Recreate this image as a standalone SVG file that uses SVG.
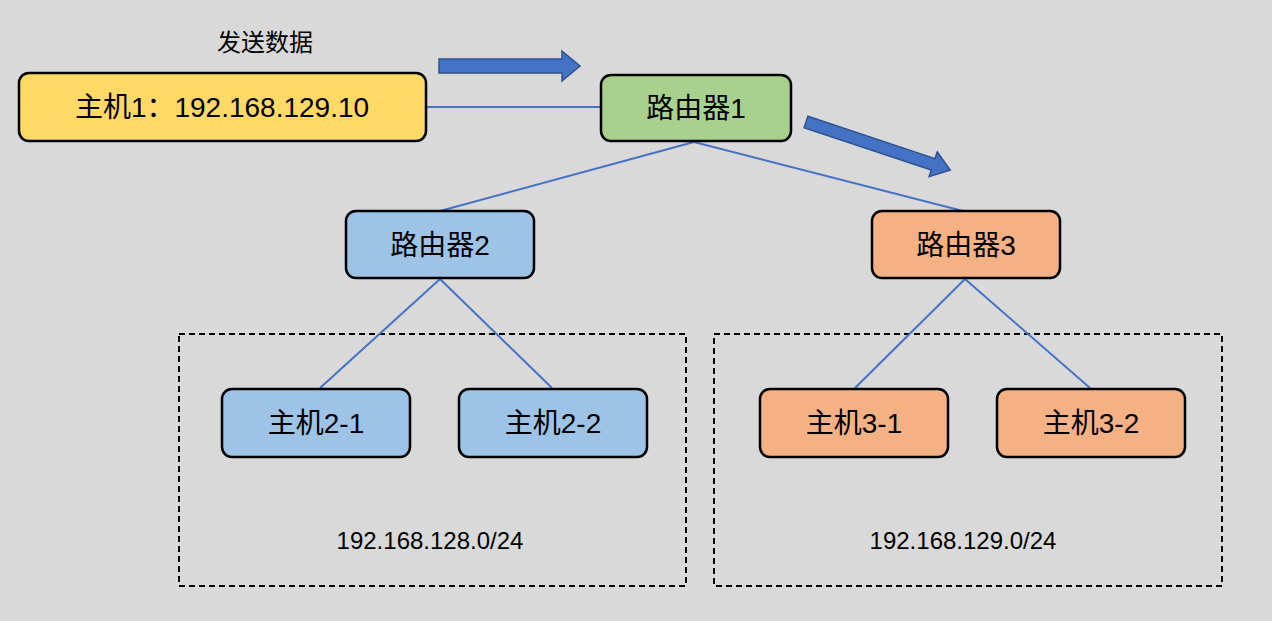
<svg xmlns="http://www.w3.org/2000/svg" width="1272" height="621" viewBox="0 0 1272 621">
<style>
.n{stroke:#000;stroke-width:2.5}
.t{font-family:"Liberation Sans","Noto Sans CJK SC",sans-serif;font-size:28px;text-anchor:middle;dominant-baseline:central;fill:#000}
.s{font-size:24px}
.c{stroke:#4472c4;stroke-width:2;fill:none}
.d{fill:none;stroke:#000;stroke-width:2;stroke-dasharray:6 4}
.a{fill:#4472c4;stroke:#2f528f;stroke-width:1.5}
</style>
<rect width="1272" height="621" fill="#d9d9d9"/>
<rect class="d" x="179" y="334" width="507" height="252"/>
<rect class="d" x="714" y="334" width="508" height="252"/>
<g id="connectors">
<line class="c" x1="426" y1="107" x2="601" y2="107"/>
<line class="c" x1="694" y1="142" x2="440" y2="211"/>
<line class="c" x1="694" y1="142" x2="963" y2="211"/>
<line class="c" x1="440" y1="279" x2="320" y2="388"/>
<line class="c" x1="440" y1="279" x2="552" y2="388"/>
<line class="c" x1="965" y1="279" x2="855" y2="388"/>
<line class="c" x1="965" y1="279" x2="1090" y2="388"/>
</g>
<polygon class="a" points="439,59 562,59 562,51 580,66 562,81 562,73 439,73"/>
<g transform="translate(806,122) rotate(18.4)"><polygon class="a" points="0,-6 134,-6 134,-13 152,0 134,13 134,6 0,6"/></g>
<text class="t s" x="265" y="42">发送数据</text>
<g id="host1"><rect class="n" x="19" y="73" width="407" height="68" rx="10" fill="#ffd966"/><text class="t" x="222" y="107">主机1：192.168.129.10</text></g>
<g id="router1"><rect class="n" x="601" y="75" width="190" height="66" rx="10" fill="#a9d18e"/><text class="t" x="696" y="108">路由器1</text></g>
<g id="router2"><rect class="n" x="346" y="211" width="188" height="67" rx="10" fill="#9dc3e6"/><text class="t" x="440" y="245">路由器2</text></g>
<g id="router3"><rect class="n" x="872" y="211" width="188" height="67" rx="10" fill="#f4b183"/><text class="t" x="966" y="245">路由器3</text></g>
<g id="host2-1"><rect class="n" x="222" y="389" width="188" height="68" rx="10" fill="#9dc3e6"/><text class="t" x="316" y="423">主机2-1</text></g>
<g id="host2-2"><rect class="n" x="459" y="389" width="188" height="68" rx="10" fill="#9dc3e6"/><text class="t" x="553" y="423">主机2-2</text></g>
<g id="host3-1"><rect class="n" x="760" y="389" width="188" height="68" rx="10" fill="#f4b183"/><text class="t" x="854" y="423">主机3-1</text></g>
<g id="host3-2"><rect class="n" x="997" y="389" width="188" height="68" rx="10" fill="#f4b183"/><text class="t" x="1091" y="423">主机3-2</text></g>
<text class="t s" x="430" y="540">192.168.128.0/24</text>
<text class="t s" x="963" y="540">192.168.129.0/24</text>
</svg>
